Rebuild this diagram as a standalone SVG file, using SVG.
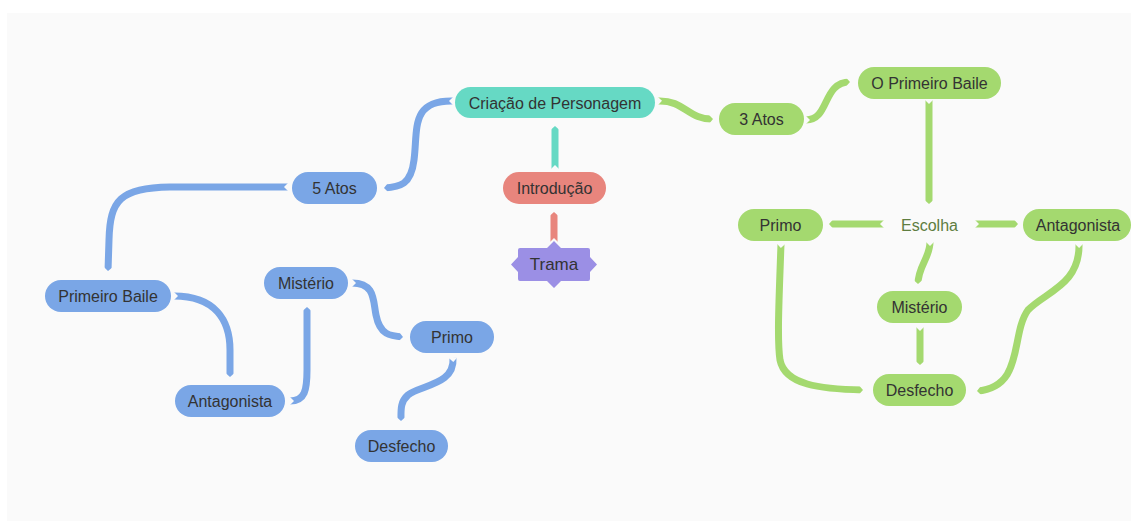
<svg xmlns="http://www.w3.org/2000/svg" width="1131" height="523" viewBox="0 0 1131 523">
<defs>
<style>
.t{font-family:"Liberation Sans",Arial,sans-serif;font-size:16px;fill:#333;text-anchor:middle;dominant-baseline:central}
.c{fill:none;stroke-width:7;stroke-linecap:butt}
.blue{fill:#7aa6e6}
.green{fill:#a4d96f}
.cb{stroke:#7aa6e6}
.cg{stroke:#a4d96f}
</style>
<marker id="s" markerUnits="userSpaceOnUse" markerWidth="10" markerHeight="10" viewBox="0 -5 10 10" refX="0" refY="0" orient="auto" overflow="visible">
<path d="M-0.5,-4.5 L4,0 L-0.5,4.5 Z" fill="#fafafa"/>
</marker>
<marker id="e" markerUnits="userSpaceOnUse" markerWidth="10" markerHeight="10" viewBox="-5 -5 10 10" refX="0" refY="0" orient="auto" overflow="visible">
<path d="M-4,-4.5 L1,-4.5 L1,0 L0,0 Z M-4,4.5 L1,4.5 L1,0 L0,0 Z" fill="#fafafa"/>
</marker>
</defs>
<rect x="0" y="0" width="1131" height="523" fill="#ffffff"/>
<rect x="7" y="13" width="1124" height="508" fill="#fafafa"/>
<g id="connectors" marker-start="url(#s)" marker-end="url(#e)">
<path class="c" stroke="#66d9c4" d="M555,169 L555,126"/>
<path class="c" stroke="#e8857d" d="M554,242 L554,212"/>
<path class="c cg" d="M658,101 C685,100 688,120 713,119"/>
<path class="c cg" d="M806,120 C830,120 822,82 850,82"/>
<path class="c cg" d="M929,100 L929,204"/>
<path class="c cg" d="M884,224 L829,224"/>
<path class="c cg" d="M975,224 L1018,224"/>
<path class="c cg" d="M930,242 C930,258 918,266 918,284"/>
<path class="c cg" d="M920,327 L920,365"/>
<path class="c cg" d="M781,244 C779,300 777,340 780,360 C785,385 820,389 863,390"/>
<path class="c cg" d="M1079,244 C1080,285 1045,292 1028,310 C1010,335 1025,387 977,391"/>
<path class="c cb" d="M453,101 C410,100 418,130 414,160 C411,185 400,187 384,188"/>
<path class="c cb" d="M288,187 L170,187 C120,188 110,200 109,240 L108,271"/>
<path class="c cb" d="M174,296 C215,296 230,320 230,350 L230,377"/>
<path class="c cb" d="M290,401 C305,401 307,390 307,370 L307,307"/>
<path class="c cb" d="M352,283 C375,283 373,300 376,315 C380,335 390,336 403,337"/>
<path class="c cb" d="M453,358 C455,385 420,385 408,395 C400,402 401,410 401,421"/>
</g>
<g id="criacao"><rect x="455" y="87" width="200" height="31" rx="15.5" fill="#66d9c4"/><text class="t" x="555" y="103">Criação de Personagem</text></g>
<g id="introducao"><rect x="503" y="172" width="103" height="32" rx="16" fill="#e8857d"/><text class="t" x="554.5" y="188">Introdução</text></g>
<g id="trama"><path d="M518,257 L518,250 Q518,248 520,248 L547,248 L554,241 L561,248 L588,248 Q590,248 590,250 L590,257 L597,264.5 L590,272 L590,279 Q590,281 588,281 L561,281 L554,288 L547,281 L520,281 Q518,281 518,279 L518,272 L511,264.5 Z" fill="#9b8fe5"/><text class="t" x="554" y="264.5" style="font-size:17px">Trama</text></g>
<g id="atos5"><rect x="292" y="172" width="85" height="32" rx="16" class="blue"/><text class="t" x="334.5" y="188">5 Atos</text></g>
<g id="primeiroBaile"><rect x="45" y="280" width="126" height="32" rx="16" class="blue"/><text class="t" x="108" y="296">Primeiro Baile</text></g>
<g id="misterioB"><rect x="264" y="267" width="84" height="32" rx="16" class="blue"/><text class="t" x="306" y="283">Mistério</text></g>
<g id="primoB"><rect x="410" y="321" width="84" height="32" rx="16" class="blue"/><text class="t" x="452" y="337">Primo</text></g>
<g id="antagonistaB"><rect x="175" y="385" width="110" height="32" rx="16" class="blue"/><text class="t" x="230" y="401">Antagonista</text></g>
<g id="desfechoB"><rect x="355" y="430" width="93" height="32" rx="16" class="blue"/><text class="t" x="401.5" y="446">Desfecho</text></g>
<g id="atos3"><rect x="719" y="103" width="85" height="32" rx="16" class="green"/><text class="t" x="761.5" y="119">3 Atos</text></g>
<g id="oPrimeiroBaile"><rect x="858" y="67" width="143" height="32" rx="16" class="green"/><text class="t" x="929.5" y="83">O Primeiro Baile</text></g>
<g id="escolha"><text class="t" x="929.5" y="225" style="fill:#5e7d40">Escolha</text></g>
<g id="primoG"><rect x="738" y="209" width="85" height="32" rx="16" class="green"/><text class="t" x="780.5" y="225">Primo</text></g>
<g id="antagonistaG"><rect x="1023" y="209" width="108" height="32" rx="16" class="green"/><text class="t" x="1078" y="225">Antagonista</text></g>
<g id="misterioG"><rect x="877" y="291" width="85" height="32" rx="16" class="green"/><text class="t" x="919.5" y="307">Mistério</text></g>
<g id="desfechoG"><rect x="873" y="374" width="93" height="32" rx="16" class="green"/><text class="t" x="919.5" y="390">Desfecho</text></g>
</svg>
